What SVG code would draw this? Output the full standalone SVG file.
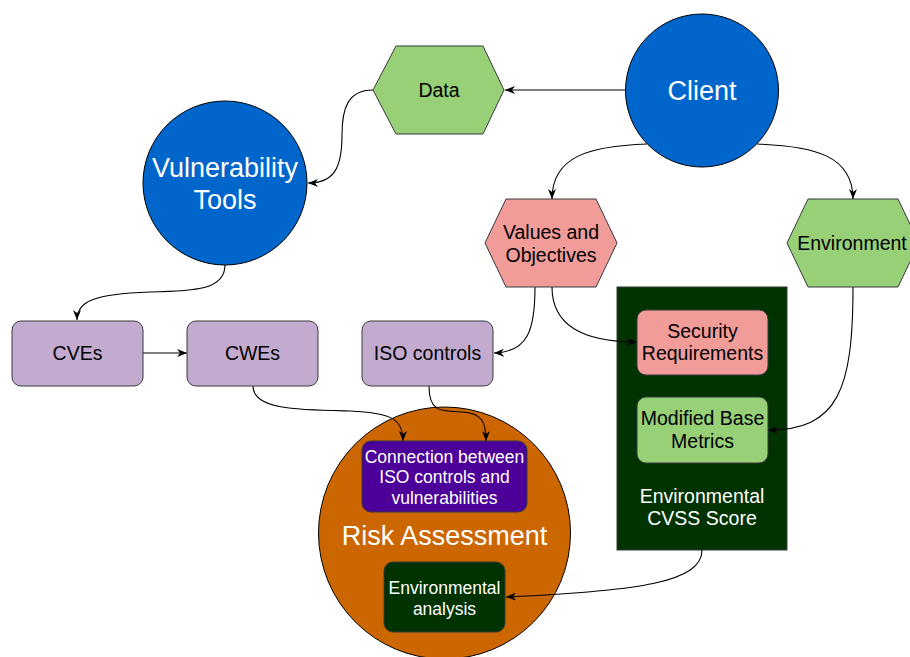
<svg xmlns="http://www.w3.org/2000/svg" width="910" height="657" viewBox="0 0 910 657">
  <defs>
    <marker id="arrow" viewBox="0 0 10 8" refX="10" refY="4" markerWidth="10" markerHeight="8" markerUnits="userSpaceOnUse" orient="auto">
      <path d="M0,0 L10,4 L0,8 L3,4 z" fill="#000"/>
    </marker>
    <style>
      text { font-family: "Liberation Sans", Arial, Helvetica, sans-serif; text-anchor: middle; dominant-baseline: central; }
      .lbl { font-size: 19.5px; fill: #000; }
      .big { font-size: 27px; fill: #fff; }
      .wht { font-size: 19.5px; fill: #fff; }
      .sm { font-size: 17.5px; fill: #fff; }
      .edge { fill: none; stroke: #000; stroke-width: 1.1; marker-end: url(#arrow); }
      .circ { stroke: #000; stroke-width: 1; }
      .hex, .box { stroke: #36393d; stroke-width: 1; }
    </style>
  </defs>

  <rect width="910" height="657" fill="#fff"/>

  <!-- containers drawn first so edges and children sit on top -->
  <g id="risk-assessment">
    <circle class="circ" cx="444.5" cy="533" r="126" fill="#CC6600"/>
    <text class="big" x="444.5" y="536">Risk Assessment</text>
  </g>
  <g id="environmental-cvss-score">
    <rect class="box" x="617" y="287" width="170" height="263" fill="#003300"/>
    <text class="wht" x="702" y="496">Environmental</text>
    <text class="wht" x="702" y="518">CVSS Score</text>
  </g>

  <g id="connectors">
    <path class="edge" d="M626,90 L505,90"/>
    <path class="edge" d="M373,90 C348,90 342,108 342,135 C342,168 334,183 308,183"/>
    <path class="edge" d="M225,265 C225,290 195,291 150,292 C92,294 77,302 77,320"/>
    <path class="edge" d="M143,353 L187,353"/>
    <path class="edge" d="M647,144 C590,146 552,156 552,199"/>
    <path class="edge" d="M757,144 C815,146 853,156 853,199"/>
    <path class="edge" d="M535,287 C535,330 528,352 494,353"/>
    <path class="edge" d="M552,287 C552,330 590,342 637,342"/>
    <path class="edge" d="M853,287 C853,390 838,430 768,430"/>
    <path class="edge" d="M253,386 C253,410 300,410 350,411 C394,413 403,420 403,441"/>
    <path class="edge" d="M429,386 C429,413 442,411 462,412 C482,413 486,422 486,441"/>
    <path class="edge" d="M702,550 C702,582 640,591 506,597"/>
  </g>

  <g id="client">
    <circle class="circ" cx="702" cy="90.5" r="76.5" fill="#0066CC"/>
    <text class="big" x="702" y="91">Client</text>
  </g>

  <g id="data">
    <polygon class="hex" points="373,90 396,46 483,46 504,90 483,134 396,134" fill="#97D077"/>
    <text class="lbl" x="439" y="90">Data</text>
  </g>

  <g id="vulnerability-tools">
    <circle class="circ" cx="225" cy="183" r="82" fill="#0066CC"/>
    <text class="big" x="225" y="168">Vulnerability</text>
    <text class="big" x="225" y="200">Tools</text>
  </g>

  <g id="values-objectives">
    <polygon class="hex" points="485,243 506,199 596,199 617,243 596,287 506,287" fill="#F19C99"/>
    <text class="lbl" x="551" y="232">Values and</text>
    <text class="lbl" x="551" y="255">Objectives</text>
  </g>

  <g id="environment">
    <polygon class="hex" points="787,243 808,199 898,199 919,243 898,287 808,287" fill="#97D077"/>
    <text class="lbl" x="852" y="243">Environment</text>
  </g>

  <g id="cves">
    <rect class="box" x="12" y="321" width="131" height="65" rx="9" fill="#C3ABD0"/>
    <text class="lbl" x="77.5" y="353">CVEs</text>
  </g>
  <g id="cwes">
    <rect class="box" x="187" y="321" width="131" height="65" rx="9" fill="#C3ABD0"/>
    <text class="lbl" x="252.5" y="353">CWEs</text>
  </g>
  <g id="iso-controls">
    <rect class="box" x="362" y="321" width="131" height="65" rx="9" fill="#C3ABD0"/>
    <text class="lbl" x="427.5" y="353">ISO controls</text>
  </g>

  <g id="security-requirements">
    <rect class="box" x="637" y="310" width="131" height="65" rx="9" fill="#F19C99"/>
    <text class="lbl" x="702.5" y="331">Security</text>
    <text class="lbl" x="702.5" y="353">Requirements</text>
  </g>
  <g id="modified-base-metrics">
    <rect class="box" x="637" y="397" width="131" height="66" rx="9" fill="#97D077"/>
    <text class="lbl" x="702.5" y="418">Modified Base</text>
    <text class="lbl" x="702.5" y="441">Metrics</text>
  </g>

  <g id="iso-vulnerability-connection">
    <rect class="box" x="362" y="441" width="165" height="71" rx="9" fill="#4C0099"/>
    <text class="sm" x="444.5" y="457">Connection between</text>
    <text class="sm" x="444.5" y="477">ISO controls and</text>
    <text class="sm" x="444.5" y="498">vulnerabilities</text>
  </g>

  <g id="environmental-analysis">
    <rect class="box" x="384" y="562" width="121" height="70" rx="9" fill="#003300"/>
    <text class="sm" x="444.5" y="588">Environmental</text>
    <text class="sm" x="444.5" y="609">analysis</text>
  </g>
</svg>
